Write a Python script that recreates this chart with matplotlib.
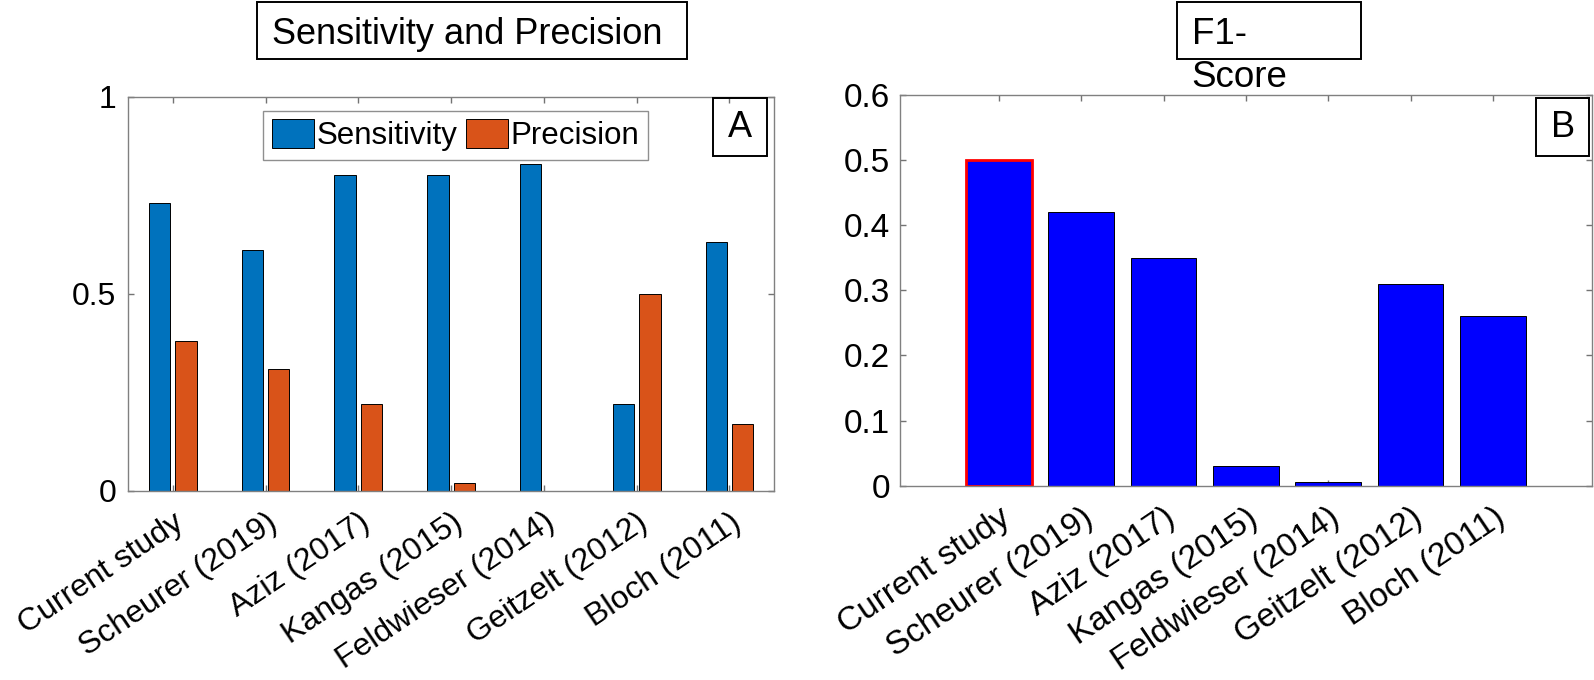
import matplotlib
matplotlib.use('Agg')
import matplotlib.pyplot as plt
from matplotlib.patches import Rectangle
import numpy as np

# ---- data ----
studies = ['Current study', 'Scheurer (2019)', 'Aziz (2017)', 'Kangas (2015)',
           'Feldwieser (2014)', 'Geitzelt (2012)', 'Bloch (2011)']
sensitivity = [0.73, 0.61, 0.80, 0.80, 0.83, 0.22, 0.63]
precision = [0.38, 0.31, 0.22, 0.02, 0.0, 0.50, 0.17]
f1_score = [0.50, 0.42, 0.35, 0.03, 0.005, 0.31, 0.26]
left_yticks = [0, 0.5, 1]
left_yticklabels = ['0', '0.5', '1']
right_yticks = [0, 0.1, 0.2, 0.3, 0.4, 0.5, 0.6]
right_yticklabels = ['0', '0.1', '0.2', '0.3', '0.4', '0.5', '0.6']

W, H = 1594, 680
plt.rcParams['font.family'] = ['Liberation Sans', 'DejaVu Sans']
fig = plt.figure(figsize=(W / 100, H / 100), dpi=100)


def frect(l, t, r, b):
    return [l / W, 1 - b / H, (r - l) / W, (b - t) / H]


def fx(px):
    return px / W


def fy(py):
    return 1 - py / H


ax1 = fig.add_axes(frect(128.3, 96.7, 774, 490.7))
ax2 = fig.add_axes(frect(900, 95, 1591.7, 485.7))

x = np.arange(1, len(studies) + 1)
bw, off = 0.229, 0.143
ax1.bar(x - off, sensitivity, bw, color='#0072BD', edgecolor='black',
        linewidth=0.7, label='Sensitivity', zorder=2)
ax1.bar(x + off, precision, bw, color='#D95319', edgecolor='black',
        linewidth=0.7, label='Precision', zorder=2)
ax1.set_xlim(0.52, 7.48)
ax1.set_ylim(0, 1)
ax1.set_yticks(left_yticks)
ax1.set_yticklabels(left_yticklabels)

edge_cols = ['red'] + ['black'] * (len(studies) - 1)
edge_lws = [2.0] + [0.7] * (len(studies) - 1)
ax2.bar(x, f1_score, 0.8, color='#0000FF', edgecolor=edge_cols,
        linewidth=edge_lws, zorder=2)
ax2.set_xlim(-0.2, 8.2)
ax2.set_ylim(0, 0.6)
ax2.set_yticks(right_yticks)
ax2.set_yticklabels(right_yticklabels)

for ax, yfs, xfs, ypad, rot, xpad in ((ax1, 23, 23, 8.5, 34, 12),
                                      (ax2, 24, 24, 7.0, 34, 12)):
    for sp in ax.spines.values():
        sp.set_color('0.5')
        sp.set_linewidth(1.0)
    ax.tick_params(axis='both', direction='in', length=4, width=1,
                   color='0.45', top=True, right=True, labelcolor='black')
    ax.tick_params(axis='y', labelsize=yfs, pad=ypad)
    ax.set_xticks(x)
    ax.set_xticklabels(studies, rotation=rot, ha='right', va='top',
                       rotation_mode='anchor', fontsize=xfs)
    ax.tick_params(axis='x', pad=xpad)

leg = ax1.legend(loc='upper left', bbox_to_anchor=(fx(263.3), fy(110.7)),
                 bbox_transform=fig.transFigure, ncol=2, fontsize=22.5,
                 frameon=True, fancybox=False, edgecolor='0.45',
                 handlelength=1.34, handleheight=1.02, handletextpad=0.1,
                 columnspacing=0.25, borderpad=0.28, borderaxespad=0)
leg.get_frame().set_linewidth(1.0)


def box(l, t, r, b):
    fig.add_artist(Rectangle((fx(l), fy(b)), (r - l) / W, (b - t) / H,
                             transform=fig.transFigure, fill=False,
                             edgecolor='black', linewidth=1.4))


# Titles
box(257.3, 2, 687, 59.3)
fig.text(fx(271.7), fy(44), 'Sensitivity and Precision', fontsize=26,
         ha='left', va='baseline')
box(1176.7, 2, 1361, 59.3)
fig.text(fx(1191.7), fy(44), 'F1-', fontsize=26.5, ha='left', va='baseline')
fig.text(fx(1191.7), fy(87.3), 'Score', fontsize=26.5, ha='left', va='baseline')

# Panel letters
box(712.7, 98.3, 766.7, 156)
fig.text(fx(739.7), fy(127.2), 'A', fontsize=26, ha='center', va='center')
box(1536, 98.3, 1589.3, 156)
fig.text(fx(1562.6), fy(127.2), 'B', fontsize=26, ha='center', va='center')

fig.savefig('out.png', dpi=100)
